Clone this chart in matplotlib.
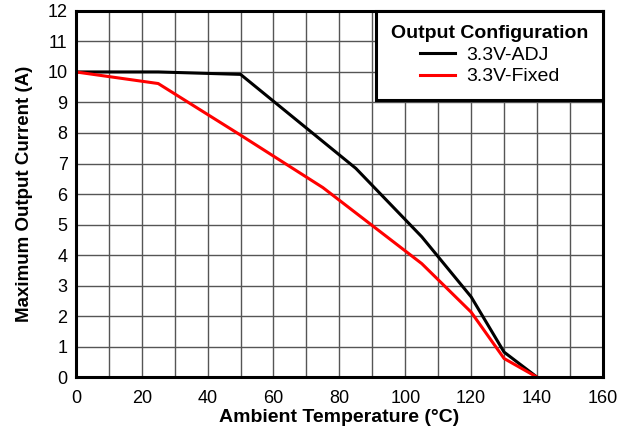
import matplotlib
matplotlib.use("Agg")
import matplotlib.pyplot as plt
from matplotlib.ticker import MultipleLocator

plt.rcParams['font.family'] = ['Liberation Sans', 'DejaVu Sans']

adj_x = [0, 25, 50, 85, 105, 120, 130, 140]
adj_y = [10.0, 10.0, 9.92, 6.84, 4.6, 2.63, 0.82, 0.0]
fixed_x = [0, 25, 50, 75, 105, 120, 130, 140]
fixed_y = [10.0, 9.62, 7.93, 6.21, 3.72, 2.13, 0.61, 0.0]

fig = plt.figure(figsize=(6.32, 4.36), dpi=100)
ax = fig.add_axes([0.120, 0.135, 0.834, 0.840])

ax.plot(adj_x, adj_y, color='black', lw=2.2, label='3.3V-ADJ', zorder=3)
ax.plot(fixed_x, fixed_y, color='#ff0000', lw=2.2, label='3.3V-Fixed', zorder=3)

ax.set_xlim(0, 160)
ax.set_ylim(0, 12)
ax.xaxis.set_major_locator(MultipleLocator(20))
ax.xaxis.set_minor_locator(MultipleLocator(10))
ax.yaxis.set_major_locator(MultipleLocator(1))
ax.grid(which='both', color='#555555', lw=1.0, zorder=1)
ax.tick_params(which='both', length=0, labelsize=13)
ax.tick_params(axis='x', pad=9)
ax.tick_params(axis='y', pad=6)
for s in ax.spines.values():
    s.set_linewidth(2.2)
    s.set_zorder(4)

ax.set_xlabel('Ambient Temperature (°C)', fontsize=14, fontweight='bold', labelpad=2)
ax.set_ylabel('Maximum Output Current (A)', fontsize=13.5, fontweight='bold', labelpad=10)

leg = ax.legend(loc='upper right', title='Output Configuration', fontsize=14,
                title_fontproperties={'weight': 'bold', 'size': 14},
                borderaxespad=0, fancybox=False, framealpha=1, edgecolor='black',
                handlelength=1.8, borderpad=0.75, labelspacing=0.2, handletextpad=0.6)
leg.get_frame().set_linewidth(2.2)
leg.set_zorder(5)

fig.savefig('out.png', dpi=100)
